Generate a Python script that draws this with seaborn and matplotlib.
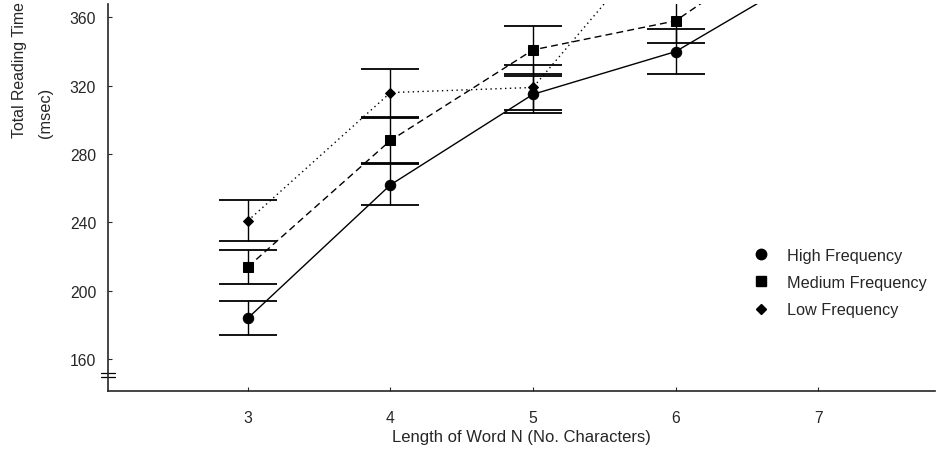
import numpy as np
import pandas as pd
import seaborn as sns
import matplotlib.pyplot as plt
from matplotlib.lines import Line2D
import matplotlib.transforms as mtransforms

# word length (x) and mean total reading time per frequency group
lengths = [3, 4, 5, 6, 7]
high_rt = [184, 262, 315, 340, 389]
medium_rt = [214, 288, 341, 358, 415]
low_rt = [241, 316, 319, 417]

# half-width of the error bars (lengths 3-6)
high_err = [10, 12, 11, 13]
medium_err = [10, 13, 14, 13]
low_err = [12, 14, 13]

groups = ["High Frequency", "Medium Frequency", "Low Frequency"]
y_ticks = [160, 200, 240, 280, 320, 360]
x_ticks = [3, 4, 5, 6, 7]


def build_frame() -> pd.DataFrame:
    rows = []
    for name, vals in zip(groups, [high_rt, medium_rt, low_rt]):
        for x, y in zip(lengths, vals):
            rows.append({"length": x, "rt": y, "freq": name})
    return pd.DataFrame(rows)


df = build_frame()

sns.set_style("ticks")
plt.rcParams["font.family"] = ["Liberation Sans", "DejaVu Sans"]

fig = plt.figure(figsize=(9.43, 4.52), dpi=100)
ax = fig.add_axes([0.1145, 0.1327, 0.877, 0.856])

markers = {"High Frequency": "o", "Medium Frequency": "s", "Low Frequency": "D"}
dashes = {"High Frequency": "", "Medium Frequency": (5, 3), "Low Frequency": (1, 2.5)}
sizes = {"High Frequency": 7.5, "Medium Frequency": 7, "Low Frequency": 5}

sns.lineplot(data=df, x="length", y="rt", style="freq", style_order=groups,
             markers=markers, dashes=dashes, color="black", linewidth=1,
             markeredgecolor="black", legend=False, ax=ax)
for line, name in zip(ax.lines, groups):
    line.set_markersize(sizes[name])

for vals, errs in zip([high_rt, medium_rt, low_rt], [high_err, medium_err, low_err]):
    n = len(errs)
    ax.errorbar(lengths[:n], vals[:n], yerr=errs, fmt="none", ecolor="black",
                elinewidth=1, capsize=21, capthick=1.3)

ax.set_xlim(2.018, 7.82)
ax.set_ylim(141.3, 367.8)
ax.set_xticks(x_ticks)
ax.set_yticks(y_ticks)
ax.tick_params(direction="in", length=3, width=0.8, labelsize=11.3)
ax.tick_params(axis="x", pad=13.5)
ax.tick_params(axis="y", pad=8.5)
for side in ["top", "right"]:
    ax.spines[side].set_visible(False)
for side in ["left", "bottom"]:
    ax.spines[side].set_linewidth(1.2)

ax.set_xlabel("Length of Word N (No. Characters)", fontsize=12, labelpad=3)
ax.set_ylabel("")
fig.text(20 / 943, 1 - 138 / 452, "Total Reading Time", rotation=90,
         ha="center", va="bottom", fontsize=11.4)
fig.text(45 / 943, 1 - 138 / 452, "(msec)", rotation=90,
         ha="center", va="bottom", fontsize=11.8)

# axis break marks on the y axis
trans = mtransforms.blended_transform_factory(ax.transAxes, ax.transData)
for yb in [151.6, 149.3]:
    ax.plot([-0.009, 0.009], [yb, yb], color="black", lw=0.9,
            transform=trans, clip_on=False)

handles = [Line2D([], [], linestyle="none", marker=markers[g], color="black",
                  markersize=sizes[g]) for g in groups]
ax.legend(handles, groups, loc="upper left", bbox_to_anchor=(0.78, 0.37),
          frameon=False, fontsize=11.7, handlelength=1, handletextpad=1.1,
          labelspacing=0.75, borderpad=0, borderaxespad=0)

fig.savefig("out.png", dpi=100)
